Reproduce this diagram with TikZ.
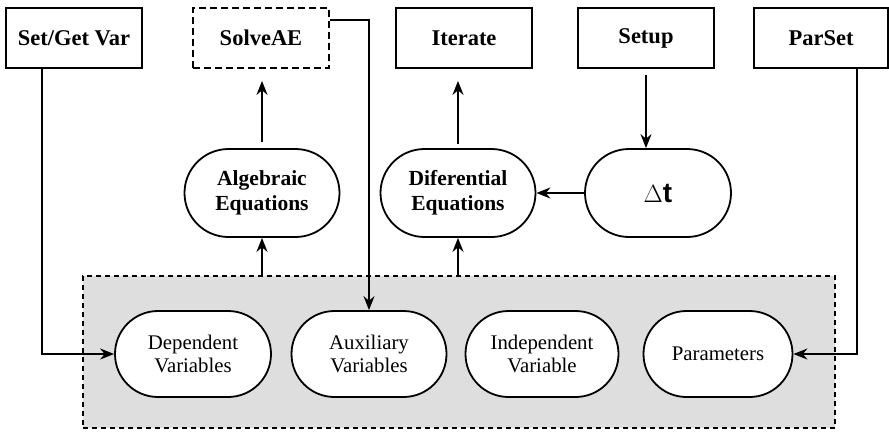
\documentclass[tikz,border=0pt]{standalone}
\usepackage{fontspec}
\setmainfont{Liberation Serif}
\newfontfamily\dtfont{Liberation Sans}
\usetikzlibrary{arrows.meta,shapes.misc}
\definecolor{boxgray}{RGB}{222,222,222}
\begin{document}
\begin{tikzpicture}[x=1pt,y=1pt,
 topbox/.style={draw,line width=1.8pt,minimum width=136pt,minimum height=60pt,inner sep=0pt,font=\fontsize{22.5}{25}\selectfont\bfseries},
 pill/.style={draw,fill=white,rounded rectangle,line width=1.8pt,minimum width=155pt,minimum height=86pt,inner sep=0pt,align=center,font=\fontsize{20.8}{23.5}\selectfont},
 eqpill/.style={pill,minimum height=88pt,font=\fontsize{21.5}{25}\selectfont\bfseries},
 arr/.style={line width=1.8pt,-{Stealth[length=14pt,width=11pt]}}]
\useasboundingbox (0,0) rectangle (889,-432);
% top boxes
\node[topbox] (sgv) at (74,-38) {Set/Get Var};
\node[topbox,dash pattern=on 7pt off 4pt] (solve) at (261,-38) {SolveAE};
\node[topbox] (iter) at (464,-38) {Iterate};
\node[topbox] (setup) at (646,-38) {Setup};
\node[topbox,minimum width=134pt] (parset) at (821,-38) {ParSet};
% equations
\node[eqpill] (alg) at (262,-193) {Algebraic\\Equations};
\node[eqpill] (diff) at (458,-193) {Diferential\\Equations};
\node[eqpill,minimum width=146pt,font=\fontsize{28}{30}\selectfont\dtfont\bfseries] (dt) at (658,-193) {$\Delta$t};
% gray group
\node[draw,fill=boxgray,line width=1.8pt,dash pattern=on 5pt off 4pt,minimum width=752pt,minimum height=152pt] (grp) at (459,-352) {};
\node[pill,minimum width=156pt] (dep) at (193,-354) {Dependent\\Variables};
\node[pill] (aux) at (369,-354) {Auxiliary\\Variables};
\node[pill,minimum width=153pt] (ind) at (542,-354) {Independent\\Variable};
\node[pill,minimum width=149pt] (par) at (718,-354) {Parameters};
% connectors
\draw[arr] ([xshift=-32pt]sgv.south) |- (dep.west);
\draw[arr] ([yshift=18pt]solve.east) -| (aux.north);
\draw[arr] (alg.south |- grp.north) -- (alg.south);
\draw[arr,shorten <=6pt,shorten >=12pt] (alg.north) -- (alg.north |- solve.south);
\draw[arr] (diff.south |- grp.north) -- (diff.south);
\draw[arr,shorten <=4pt,shorten >=12pt] (diff.north) -- (diff.north |- iter.south);
\draw[arr,shorten <=6pt] (setup.south) -- (setup.south |- dt.north);
\draw[arr] (dt.west) -- (diff.east);
\draw[arr] ([xshift=36pt]parset.south) |- (par.east);
\end{tikzpicture}
\end{document}
